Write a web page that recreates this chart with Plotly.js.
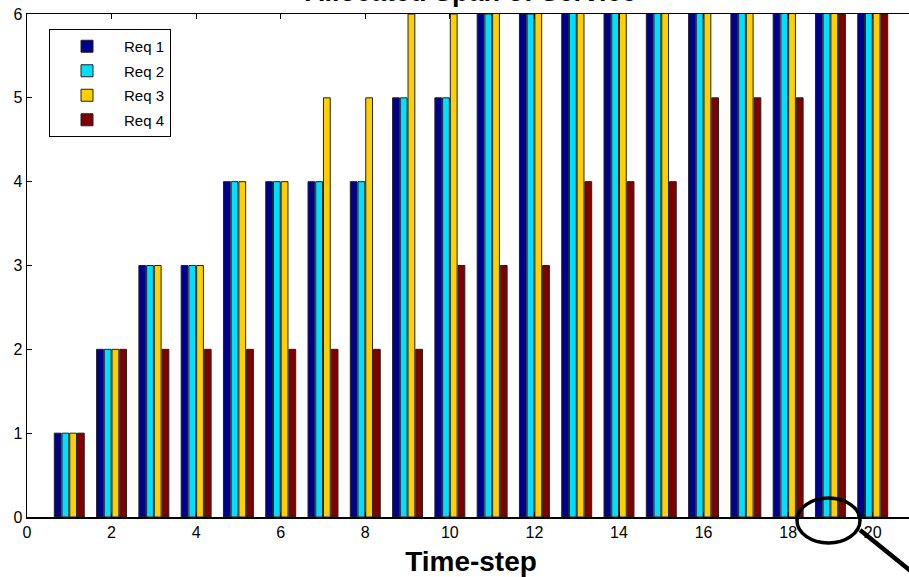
<!DOCTYPE html>
<html>
<head>
<meta charset="utf-8">
<script src="https://cdn.plot.ly/plotly-3.0.1.min.js"></script>
<style>
  html, body { margin: 0; padding: 0; overflow: hidden; background: #fff; }
  #chart { width: 915px; height: 577px; }
</style>
</head>
<body>
<div id="chart"></div>
<script>
// Data (values above 6 are clipped by the axis in the reference; estimated)
const timeSteps = [1,2,3,4,5,6,7,8,9,10,11,12,13,14,15,16,17,18,19,20];
const req1 = [1,2,3,3,4,4,4,4,5,5,6,6,7,7,7,8,8,8,9,9];
const req2 = [1,2,3,3,4,4,4,4,5,5,6,6,7,7,7,8,8,8,9,9];
const req3 = [1,2,3,3,4,4,5,5,6,6,7,7,8,8,8,9,9,9,10,10];
const req4 = [1,2,2,2,2,2,2,2,2,3,3,3,4,4,4,5,5,5,6,6];
const seriesNames = ['Req 1','Req 2','Req 3','Req 4'];
const seriesColors = ['#00008F','#00DFFF','#FFCF00','#800000'];
const xTickVals = [0,2,4,6,8,10,12,14,16,18,20];
const yTickVals = [0,1,2,3,4,5,6];
const titleText = 'Allocated Span of Service';
const xTitle = 'Time-step';

const FONT = 'Liberation Sans, Arial, sans-serif';
const allSeries = [req1, req2, req3, req4];
const traces = allSeries.map((vals, i) => ({
  type: 'bar',
  x: timeSteps,
  y: vals,
  name: seriesNames[i],
  legendgroup: 'g' + i,
  marker: { color: seriesColors[i], line: { color: '#222', width: 1 } },
  hoverinfo: 'x+y+name'
}));

// plot area mapping helpers for the decorative magnifier (pixel -> paper)
const W = 915, H = 577, ML = 27, MR = 0, MT = 14, MB = 60;
const px = v => (v - ML) / (W - ML - MR);
const py = v => (H - MB - v) / (H - MT - MB);

const layout = {
  width: W, height: H,
  margin: { l: ML, r: MR, t: MT, b: MB, pad: 0 },
  paper_bgcolor: '#fff', plot_bgcolor: '#fff',
  barmode: 'group',
  bargap: 0.27,
  bargroupgap: 0.12,
  showlegend: true,
  font: { family: FONT, color: '#000', size: 16 },
  annotations: [
    { // chart title, mostly cut off at the top edge as in the reference
      text: '<b>' + titleText + '</b>',
      font: { family: FONT, size: 27, color: '#000' },
      xref: 'paper', x: 0.5, xanchor: 'center',
      yref: 'paper', y: 1, yanchor: 'bottom', yshift: 5,
      showarrow: false
    }
  ],
  xaxis: {
    range: [0, 21],
    tickvals: xTickVals,
    ticktext: xTickVals.map(String),
    ticks: 'inside', ticklen: 5, tickwidth: 1, tickcolor: '#000',
    mirror: 'ticks', showline: true, linecolor: '#000', linewidth: 1.5,
    showgrid: false, zeroline: false,
    tickfont: { family: FONT, size: 16, color: '#000' },
    title: { text: '<b>' + xTitle + '</b>', font: { family: FONT, size: 28, color: '#000' }, standoff: 11 }
  },
  yaxis: {
    range: [0, 6],
    tickvals: yTickVals,
    ticks: 'inside', ticklen: 5, tickwidth: 1, tickcolor: '#000',
    mirror: 'ticks', showline: true, linecolor: '#000', linewidth: 1.5,
    showgrid: false, zeroline: false,
    tickfont: { family: FONT, size: 16, color: '#000' }
  },
  legend: {
    x: px(49), y: py(29), xanchor: 'left', yanchor: 'top',
    bgcolor: '#fff', bordercolor: '#000', borderwidth: 1,
    font: { family: FONT, size: 15, color: '#000' },
    traceorder: 'grouped',
    tracegroupgap: 2, itemwidth: 64
  },
  shapes: [
    { type: 'circle', xref: 'paper', yref: 'paper', layer: 'above',
      x0: px(797), x1: px(860), y0: py(543), y1: py(498),
      line: { color: '#000', width: 3.5 } },
    { type: 'line', xref: 'paper', yref: 'paper', layer: 'above',
      x0: px(860), y0: py(530), x1: px(912), y1: py(572),
      line: { color: '#000', width: 4.5 } }
  ]
};

Plotly.newPlot('chart', traces, layout, { displayModeBar: false, staticPlot: true });
</script>
</body>
</html>
